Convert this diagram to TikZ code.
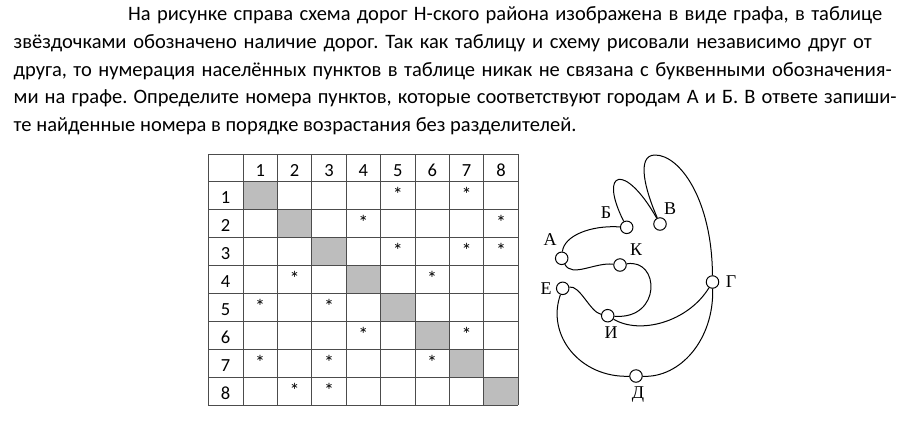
\documentclass[tikz,border=0pt]{standalone}
\usepackage{fontspec}
\setmainfont{Carlito}
\newfontfamily\graphfont{Liberation Serif}
\usetikzlibrary{positioning}
\frenchspacing

\tikzset{
  para/.style={anchor=base west, inner sep=0pt, font=\fontsize{20.5bp}{24bp}\selectfont},
  cellgrid/.style={draw=black!70, line width=1bp},
  diagcell/.style={fill=black!26},
  digit/.style={anchor=base, inner sep=0pt, font=\fontsize{18.5bp}{20bp}\selectfont},
  star/.style={anchor=base, inner sep=0pt, font=\fontsize{20bp}{20bp}\selectfont},
  town/.style={circle, draw, fill=white, minimum size=12.5bp, inner sep=0pt, line width=1bp},
  townlabel/.style={inner sep=0pt, font=\graphfont\fontsize{18bp}{18bp}\selectfont},
  road/.style={line width=1bp}
}

\begin{document}
\begin{tikzpicture}[x=1bp, y=-1bp]
    \useasboundingbox (0,0) rectangle (898,420);

    % text of the task
    \node[para] (line1) at (128,20.5) {\makebox[754bp][s]{На рисунке справа схема дорог Н-ского района изображена в виде графа, в таблице}};
    \node[para] (line2) at (13.5,48.3) {\makebox[858bp][s]{звёздочками обозначено наличие дорог. Так как таблицу и схему рисовали независимо друг от}};
    \node[para] (line3) at (13.5,76.1) {\makebox[878bp][s]{друга, то нумерация населённых пунктов в таблице никак не связана с буквенными обозначения-}};
    \node[para] (line4) at (13.5,103.9) {\makebox[883bp][s]{ми на графе. Определите номера пунктов, которые соответствуют городам А и Б. В ответе запиши-}};
    \node[para] (line5) at (13.5,131.7) {те найденные номера в порядке возрастания без разделителей.};

    % table
    \foreach \n in {1,...,8}
        \fill[diagcell] ({243+(\n-1)*34.4},{154+\n*27.9}) rectangle ++(34.4,27.9);
    \draw[cellgrid] (208,154) -- (208,405.1);
    \foreach \c in {0,...,8}
        \draw[cellgrid] ({243+\c*34.4},154) -- ({243+\c*34.4},405.1);
    \foreach \r in {0,...,9}
        \draw[cellgrid] (208,{154+\r*27.9}) -- (518.2,{154+\r*27.9});
    \foreach \n in {1,...,8} {
        \node[digit] (h\n) at ({243+(\n-0.5)*34.4},176.3) {\n};
        \node[digit] (r\n) at (225.5,{154+\n*27.9+21.8}) {\n};
    }
    \foreach \r/\c in {1/5,1/7,2/4,2/8,3/5,3/7,3/8,4/2,4/6,5/1,5/3,6/4,6/7,7/1,7/3,7/6,8/2,8/3}
        \node[star] (s\r\c) at ({243+(\c-0.5)*34.4},{154+\r*27.9+20}) {*};

    % graph of roads
    \node[town] (a) at (561.7,258.3) {};
    \node[town] (b) at (626.7,227.3) {};
    \node[town] (v) at (660,224) {};
    \node[town] (g) at (712.5,282) {};
    \node[town] (d) at (636,376) {};
    \node[town] (e) at (562.7,288.3) {};
    \node[town] (i) at (607.7,315.7) {};
    \node[town] (k) at (620,265) {};

    \node[townlabel] (aLabel) at (550,240) {А};
    \node[townlabel] (bLabel) at (606,213) {Б};
    \node[townlabel] (vLabel) at (670,209) {В};
    \node[townlabel] (gLabel) at (731,282) {Г};
    \node[townlabel] (dLabel) at (638,395) {Д};
    \node[townlabel] (eLabel) at (546,289) {Е};
    \node[townlabel] (iLabel) at (611,333) {И};
    \node[townlabel] (kLabel) at (636,250) {К};

    \draw[road] (a) .. controls (564,236) and (590,225) .. (b);
    \draw[road] (a) .. controls (572,278) and (595,262) .. (k);
    \draw[road] (b) .. controls (598,170) and (625,162) .. (v);
    \draw[road] (v) .. controls (645,190) and (636,155) .. (655,155)
                    .. controls (680,155) and (712,200) .. (g);
    \draw[road] (i) .. controls (640,335) and (688,322) .. (g);
    \draw[road] (d) .. controls (680,378) and (714,340) .. (g);
    \draw[road] (e) .. controls (546,335) and (580,378) .. (d);
    \draw[road] (e) .. controls (580,285) and (590,312) .. (i);
    \draw[road] (k) .. controls (660,258) and (662,320) .. (i);
\end{tikzpicture}
\end{document}
